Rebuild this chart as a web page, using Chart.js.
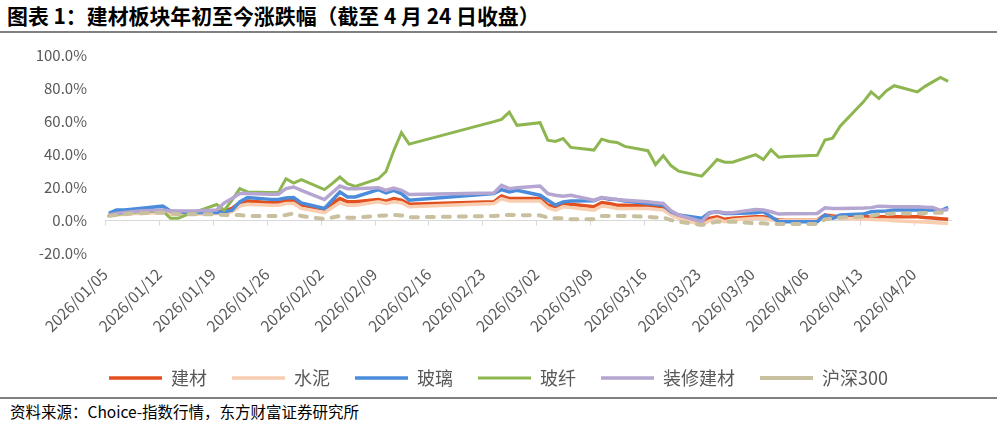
<!DOCTYPE html><html lang="zh-CN"><meta charset="utf-8">
<title>建材板块年初至今涨跌幅</title>
<script src="https://cdn.jsdelivr.net/npm/chart.js@4.4.1"></script>
<style>
*{box-sizing:border-box}
body{margin:0;width:997px;height:429px;background:#fff;position:relative;overflow:hidden;font-family:"Noto Sans CJK SC",sans-serif}
#title{position:absolute;left:7px;top:0;font-size:20.9px;font-weight:700;color:#000;white-space:nowrap}
.rule{position:absolute;left:0;width:997px;height:2px;background:#808080}
#chart{position:absolute;left:0;top:36px}
#src{position:absolute;left:10px;top:400px;font-size:15.5px;color:#000;white-space:nowrap}
</style>
<body>
<div id="title">图表 1：建材板块年初至今涨跌幅（截至 4 月 24 日收盘）</div>
<div class="rule" style="top:31px"></div>
<canvas id="chart" width="997" height="361"></canvas>
<div class="rule" style="top:397px"></div>
<div id="src">资料来源：Choice-指数行情，东方财富证券研究所</div>

<script>
// 交易日（2026 年）
const dates = [
  '01/05','01/06','01/07','01/08','01/09','01/12','01/13','01/14','01/15','01/16',
  '01/19','01/20','01/21','01/22','01/23','01/26','01/27','01/28','01/29','01/30',
  '02/02','02/03','02/04','02/05','02/06','02/09','02/10','02/11','02/12','02/13',
  '02/24','02/25','02/26','02/27',
  '03/02','03/03','03/04','03/05','03/06','03/09','03/10','03/11','03/12','03/13',
  '03/16','03/17','03/18','03/19','03/20','03/23','03/24','03/25','03/26','03/27','03/30','03/31',
  '04/01','04/02','04/03','04/07','04/08','04/09','04/10','04/13','04/14','04/15','04/16','04/17',
  '04/20','04/21','04/22','04/23','04/24'
];
const tickLabels = ['2026/01/05','2026/01/12','2026/01/19','2026/01/26','2026/02/02','2026/02/09',
  '2026/02/16','2026/02/23','2026/03/02','2026/03/09','2026/03/16','2026/03/23','2026/03/30',
  '2026/04/06','2026/04/13','2026/04/20'];

// 涨跌幅 %
const jiancai = [
  3,4,4.5,5,5,5.5,4.5,4.5,4.5,4.5, 5,5.5,7,10.5,11.5,10.5,10.5,11.8,12,9,
  6.4,10,13,11,11,12.4,11.4,13,12,9.6, 11,14.6,13,13,
  13,9,8,10,9.5,8,10.6,10,9,9, 8.5,8.4,8,4.4,2,-1.6,1,2,0.4,1,2,2,
  1,0,0,0,3,2.5,2,2,2,2,2,2, 2,1.5,1.2,0.8,0.4
];
const shuini = [
  2.5,3,3.5,4,4,4.5,3.5,3.5,3.5,3.5, 4,4.5,5,8.5,9.5,9,9,10,10,7,
  4.5,7.5,10.4,9,9,11,10,11,10.5,8, 10,13,11.5,11.5,
  11.5,7.5,6,8,7.5,6,8.5,8,7,7, 7,6.5,6,3,1,-3,-0.5,0.5,-1,0,1,1,
  0,-0.4,0,0,2,1.5,1,0.4,0.3,0.2,0,-0.5, -1,-1.2,-1.5,-1.8,-2
];
const boli = [
  4,6,6,6.5,7,8.4,5.5,5,4.5,4.5, 4.5,5,6,11,13.6,12.5,12.4,13.4,13.6,10.4,
  7,12,17,14,14,18.4,16.4,18,16,12, 16,18.4,17,18,
  15,12,9,11,11.5,11.6,13.6,12.5,12.4,11.5, 10,9.5,9,5,3,1,4.4,5,4,4,4.4,5,
  2,-1,-1,-1,3,1,3,3.6,5,5.3,5.5,6, 6,6.2,6,5.6,7.6
];
const boxian = [
  3,3.5,4,4.5,5,5.5,1,1,3,4.5, 9.4,6,12,19,17,16.6,16.6,25,22.4,24.4,
  18.4,22,26,22,20.4,25,29.4,42,53,46, 59.6,61,65.4,57.4,
  59,48.4,47.6,49.4,44,42.4,49,47.6,47,44.6, 42,33.6,39,33,29.6,26.6,31.5,36.6,35,35,39.6,36.6,
  42.6,38,38.5,39.2,48.4,49.6,57,71.6,77.6,73.6,78.4,81.4, 77.6,81,83.7,86.4,84
];
const zhuangxiu = [
  3,4,4.5,5,5.5,6,5.5,5.5,5.5,5.5, 6,10.4,13,16,16,15.6,15.6,19,20,18,
  12.4,16.5,20.6,19,19,19.6,18,19.4,18,15.4, 16.4,21,19,19.5,
  20.6,16,15,14.4,15,12,13.6,13,12.4,12, 11,10.5,10,5.6,3,-1,4,5,4.4,4.4,6.4,6,
  5,3.6,3.8,4,7.4,7,7,7.2,7.5,8.4,8.2,8, 8,7.8,7.6,5.8,6.4
];
const hs300 = [
  2.5,3,3.5,4,4,4.5,4,3.5,3.5,3.5, 3.5,3,3,3,2.5,2.5,2.5,3,4,2.4,
  0.6,1.5,2.4,1.4,1.4,2.6,2.8,3,2.8,1.6, 2.4,2.8,3.2,3,
  2.8,1.5,1,1,0.4,0.5,2.4,2.4,2.4,2.4, 2,1.5,1.4,0,-1,-3,-2,-1,-1,-1,-2,-2,
  -2.4,-2.4,-2.4,-2.4,0.4,1,1.5,2,2.5,3.4,3.6,4, 4,4.2,4.4,4.4,4.4
];

const day0 = Date.UTC(2026,0,5);
const dayOf = s => { const [m,d] = s.split('/').map(Number); return (Date.UTC(2026,m-1,d)-day0)/864e5; };
const xs = dates.map(dayOf);
const pts = arr => arr.map((v,i)=>({x:xs[i], y:v}));

Chart.defaults.font.family = '"Noto Sans CJK SC", "Liberation Sans", sans-serif';

const series = [
  {label:'建材',     data:jiancai,   color:'#E2501F', w:3.5},
  {label:'水泥',     data:shuini,    color:'#F9CDB0', w:3.5},
  {label:'玻璃',     data:boli,      color:'#4A8CDB', w:3.5},
  {label:'玻纤',     data:boxian,    color:'#8DB650', w:3},
  {label:'装修建材', data:zhuangxiu, color:'#B4A5D1', w:3.5},
  {label:'沪深300',  data:hs300,     color:'#C8C09E', w:4, dash:[7,9]}
];

// 0 轴线 + 刻度线
const zeroAxis = {
  id:'zeroAxis',
  beforeDatasetsDraw(chart){
    const {ctx, chartArea:{left,right}, scales:{x,y}} = chart;
    const y0 = Math.round(y.getPixelForValue(0)) + 0.5;
    ctx.save();
    ctx.strokeStyle = '#d9d9d9'; ctx.lineWidth = 1;
    ctx.beginPath();
    ctx.moveTo(left,y0); ctx.lineTo(right,y0);
    x.ticks.forEach(t=>{
      const px = Math.round(x.getPixelForValue(t.value)) + 0.5;
      ctx.moveTo(px,y0); ctx.lineTo(px,y0+5);
    });
    ctx.stroke();
    ctx.restore();
  }
};

new Chart(document.getElementById('chart'),{
  type:'line',
  data:{datasets:series.map((s,i)=>({
    label:s.label, data:pts(s.data), borderColor:s.color, backgroundColor:s.color,
    borderWidth:s.w, borderDash:s.dash||[], borderCapStyle:s.dash?'round':'butt',
    pointRadius:0, tension:0, order:series.length-i   // 后面的系列画在上层
  }))},
  options:{
    responsive:false, animation:false,
    layout:{padding:{top:4,right:0,left:0,bottom:0}},
    scales:{
      x:{type:'linear', min:-0.5, max:xs[xs.length-1]+0.5,
        afterBuildTicks:s=>{ s.ticks = tickLabels.map(l=>({value:dayOf(l.slice(5))-0.5})); },
        afterFit:s=>{ s.height = 91; },
        grid:{display:false}, border:{display:false},
        ticks:{autoSkip:false, minRotation:45, maxRotation:45, color:'#595959', font:{size:15.5}, padding:4,
          callback:(v,i)=>tickLabels[i]}},
      y:{min:-20, max:100,
        afterFit:s=>{ s.width = 105; },
        grid:{display:false}, border:{display:false},
        ticks:{stepSize:20, color:'#595959', font:{size:15}, padding:10, callback:v=>v.toFixed(1)+'%'}},
      // 右侧留白（空轴），让图例居中于整幅画布
      yR:{position:'right', afterFit:s=>{ s.width = 45; },
        grid:{display:false}, border:{display:false}, ticks:{display:false}}
    },
    plugins:{
      legend:{position:'bottom',
        labels:{usePointStyle:true, pointStyle:'line', pointStyleWidth:53, padding:25, color:'#595959', font:{size:18},
          sort:(a,b)=>a.datasetIndex-b.datasetIndex}},
      tooltip:{enabled:false}
    }
  },
  plugins:[zeroAxis]
});
</script>
</body></html>
